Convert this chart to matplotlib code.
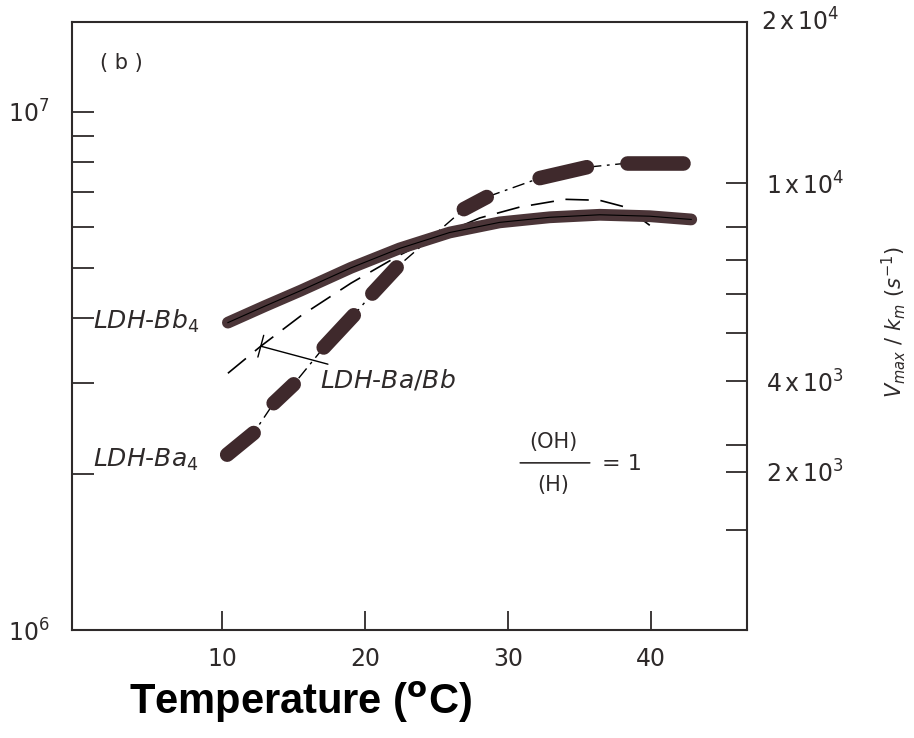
import numpy as np
import matplotlib
matplotlib.use("Agg")
import matplotlib.pyplot as plt
from matplotlib.ticker import FixedLocator, LogLocator, NullFormatter

# temperature (C) and rate values
bb4_t = [10.4, 13.0, 15.5, 19.0, 22.4, 25.9, 29.4, 32.9, 36.4, 39.9, 42.8]
bb4_v = [3.92e6, 4.22e6, 4.52e6, 5.0e6, 5.45e6, 5.85e6, 6.12e6, 6.26e6, 6.33e6, 6.29e6, 6.2e6]

ba4_t = [10.35, 12.2, 13.6, 15.0, 17.1, 19.2, 20.5, 22.2, 26.9, 28.5, 32.2, 35.5, 38.3, 42.2]
ba4_v = [2.18e6, 2.40e6, 2.74e6, 2.98e6, 3.51e6, 4.05e6, 4.46e6, 5.01e6,
         6.49e6, 6.85e6, 7.45e6, 7.82e6, 7.96e6, 7.96e6]

bab_t = [10.4, 12.7, 15.5, 19.0, 22.4, 25.2, 28.0, 30.8, 34.0, 36.4, 38.2, 39.9]
bab_v = [3.13e6, 3.53e6, 4.04e6, 4.67e6, 5.29e6, 5.78e6, 6.24e6, 6.55e6,
         6.78e6, 6.75e6, 6.55e6, 6.04e6]

x_ticks = [10, 20, 30, 40]
y_major = [1e6, 1e7]
y_major_labels = [r"$10^6$", r"$10^7$"]

# right hand scale (Vmax/km), placed on the left-axis units
right_tick_pos = [7.29e6, 5.99e6, 5.17e6, 4.46e6, 3.75e6, 3.02e6, 2.28e6, 2.02e6, 1.56e6]
right_tick_labels = [r"$1\,\mathrm{x}\,10^4$", "", "", "", "",
                     r"$4\,\mathrm{x}\,10^3$", "", r"$2\,\mathrm{x}\,10^3$", ""]

ink = "#2e2a2a"
marker_brown = "#3f292c"

fig = plt.figure(figsize=(9.14, 7.38), dpi=100)
ax = fig.add_axes([0.0788, 0.1463, 0.7385, 0.8237])

ax.set_yscale("log")
ax.set_xlim(-0.5, 46.7)
ax.set_ylim(1e6, 1.49e7)

# LDH-Bb4 : thick solid band with the printed thin line inside
ax.plot(bb4_t, bb4_v, color="#4b3538", lw=8.5, solid_capstyle="round",
        solid_joinstyle="round", zorder=3)
ax.plot(bb4_t, bb4_v, color="black", lw=0.8, zorder=4)

# LDH-Ba/Bb : thin long dashes
ax.plot(bab_t, bab_v, color="black", lw=1.2, linestyle=(0, (14, 7)), zorder=2)

# LDH-Ba4 : thin dash-dot line with thick sausage dashes on top
ax.plot(ba4_t, ba4_v, color="black", lw=1.0, linestyle=(0, (9, 4, 2, 4)), zorder=2)
for i in range(0, len(ba4_t) - 1, 2):
    ax.plot(ba4_t[i:i + 2], ba4_v[i:i + 2], color=marker_brown, lw=10.5,
            solid_capstyle="round", zorder=3)

# axes styling
for s in ax.spines.values():
    s.set_color(ink)
    s.set_linewidth(1.5)

ax.xaxis.set_major_locator(FixedLocator(x_ticks))
ax.set_xticklabels([str(t) for t in x_ticks])
ax.tick_params(axis="x", direction="in", length=14, width=1.3, pad=12,
               labelsize=17, colors=ink)

ax.yaxis.set_major_locator(FixedLocator(y_major))
ax.set_yticklabels(y_major_labels)
ax.yaxis.set_minor_locator(LogLocator(base=10, subs=np.arange(2, 10)))
ax.yaxis.set_minor_formatter(NullFormatter())
ax.tick_params(axis="y", which="both", direction="in", length=16, width=1.3,
               pad=16, labelsize=17, colors=ink)

axr = ax.twinx()
axr.set_yscale("log")
axr.set_ylim(ax.get_ylim())
axr.yaxis.set_major_locator(FixedLocator(right_tick_pos))
axr.set_yticklabels(right_tick_labels)
axr.yaxis.set_minor_locator(FixedLocator([]))
axr.tick_params(axis="y", direction="in", length=15, width=1.3, pad=14,
                labelsize=17, colors=ink)
for s in axr.spines.values():
    s.set_visible(False)

ax.text(1.02, 1.0, r"$2\,\mathrm{x}\,10^4$", transform=ax.transAxes,
        fontsize=17, color=ink, ha="left", va="center")

# annotations
ax.text(0.041, 0.933, "( b )", transform=ax.transAxes, fontsize=15,
        color=ink, ha="left", va="center")
ax.text(0.031, 0.507, r"$\it{LDH}$-$\it{Bb}_4$", transform=ax.transAxes,
        fontsize=18, color=ink, ha="left", va="center")
ax.text(0.031, 0.280, r"$\it{LDH}$-$\it{Ba}_4$", transform=ax.transAxes,
        fontsize=18, color=ink, ha="left", va="center")
ax.annotate(r"$\it{LDH}$-$\it{Ba/Bb}$", xy=(bab_t[1], bab_v[1]),
            xytext=(0.367, 0.411), textcoords="axes fraction",
            fontsize=18, color=ink, ha="left", va="center",
            arrowprops=dict(arrowstyle="-[, widthB=0.45, lengthB=0",
                            color="black", lw=1.0, shrinkA=2, shrinkB=0))

ax.text(0.7126, 0.309, "(OH)", transform=ax.transAxes, fontsize=15,
        color=ink, ha="center", va="center")
ax.text(0.7126, 0.238, "(H)", transform=ax.transAxes, fontsize=15,
        color=ink, ha="center", va="center")
ax.annotate("", xy=(0.767, 0.275), xytext=(0.664, 0.275),
            xycoords="axes fraction", textcoords="axes fraction",
            arrowprops=dict(arrowstyle="-", color=ink, lw=1.2,
                            shrinkA=0, shrinkB=0))
ax.text(0.785, 0.273, "= 1", transform=ax.transAxes, fontsize=16,
        color=ink, ha="left", va="center")

# partially visible label of the neighbouring panel
fig.text(0.978, 0.564, r"$V_{max}\ /\ k_m\ (s^{-1})$", rotation=90,
         fontsize=15, color=ink, ha="center", va="center")

fig.text(300 / 914, 1 - 702 / 738, r"Temperature ($^{\mathbf{o}}$C)",
         fontsize=30, fontweight="bold", family="Liberation Sans",
         ha="center", va="center")

fig.savefig("out.png", dpi=100)
